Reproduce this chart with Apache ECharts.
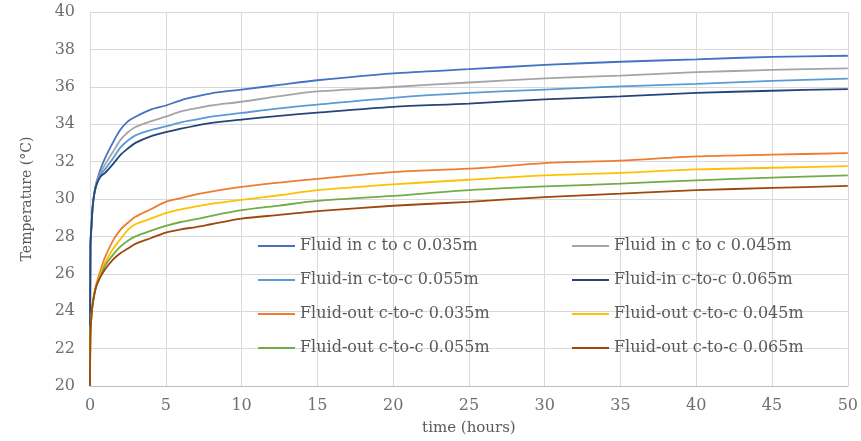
<!DOCTYPE html>
<html>
<head>
<meta charset="utf-8">
<style>
html, body { margin: 0; padding: 0; background: #fff; }
#main { width: 861px; height: 441px; }
</style>
<script src="https://cdn.jsdelivr.net/npm/echarts@6/dist/echarts.min.js"></script>
</head>
<body>
<div id="main"></div>
<script>
// time points (hours)
var time = [0, 0.03, 0.1, 0.2, 0.4, 0.7, 1, 1.5, 2, 2.5, 3, 4, 5, 6, 7, 8, 10, 12.5, 15, 20, 25, 30, 35, 40, 45, 50];

// temperatures (°C)
var in035 = [20, 27.5, 28.6, 29.8, 30.8, 31.6, 32.2, 33.0, 33.7, 34.15, 34.4, 34.78, 35.0, 35.28, 35.48, 35.65, 35.85, 36.1, 36.35, 36.72, 36.94, 37.17, 37.34, 37.47, 37.6, 37.66];
var in045 = [20, 27.5, 28.6, 29.8, 30.8, 31.4, 31.85, 32.5, 33.15, 33.57, 33.85, 34.15, 34.4, 34.68, 34.85, 35.0, 35.2, 35.5, 35.75, 35.99, 36.23, 36.45, 36.6, 36.78, 36.9, 36.99];
var in055 = [20, 27.5, 28.6, 29.8, 30.7, 31.3, 31.6, 32.15, 32.75, 33.13, 33.4, 33.68, 33.88, 34.1, 34.25, 34.4, 34.6, 34.85, 35.05, 35.41, 35.67, 35.85, 36.02, 36.16, 36.32, 36.44];
var in065 = [20, 27.5, 28.6, 29.8, 30.7, 31.2, 31.4, 31.85, 32.35, 32.7, 33.0, 33.35, 33.57, 33.76, 33.93, 34.07, 34.25, 34.45, 34.62, 34.93, 35.1, 35.33, 35.49, 35.67, 35.79, 35.88];
var out035 = [20, 22.8, 23.8, 24.6, 25.4, 26.2, 26.9, 27.75, 28.35, 28.73, 29.05, 29.45, 29.85, 30.05, 30.25, 30.4, 30.65, 30.88, 31.08, 31.44, 31.62, 31.92, 32.05, 32.28, 32.37, 32.45];
var out045 = [20, 22.8, 23.8, 24.5, 25.3, 26.0, 26.6, 27.3, 27.85, 28.35, 28.65, 28.95, 29.25, 29.45, 29.6, 29.74, 29.95, 30.2, 30.47, 30.78, 31.03, 31.26, 31.4, 31.58, 31.67, 31.76];
var out055 = [20, 22.8, 23.8, 24.5, 25.3, 25.9, 26.45, 27.0, 27.45, 27.77, 28.0, 28.3, 28.56, 28.77, 28.92, 29.1, 29.4, 29.65, 29.9, 30.17, 30.47, 30.67, 30.82, 31.0, 31.14, 31.26];
var out065 = [20, 22.8, 23.8, 24.5, 25.3, 25.85, 26.25, 26.75, 27.1, 27.35, 27.6, 27.9, 28.2, 28.38, 28.5, 28.65, 28.95, 29.15, 29.35, 29.64, 29.85, 30.1, 30.29, 30.47, 30.59, 30.7];

var names = [
    'Fluid in c to c 0.035m', 'Fluid in c to c 0.045m',
    'Fluid-in c-to-c 0.055m', 'Fluid-in c-to-c 0.065m',
    'Fluid-out c-to-c 0.035m', 'Fluid-out c-to-c 0.045m',
    'Fluid-out c-to-c 0.055m', 'Fluid-out c-to-c 0.065m'
];
var values = [in035, in045, in055, in065, out035, out045, out055, out065];
var colors = ['#4472C4', '#A5A5A5', '#5B9BD5', '#264478', '#ED7D31', '#FFC000', '#70AD47', '#9E480E'];

// the reference text is wide serif, DejaVu Serif gets the widths closest
var font = '"DejaVu Serif", "Liberation Serif", serif';
var textColor = '#595959';

function pairs(arr) {
    return time.map(function (t, i) { return [t, arr[i]]; });
}

var series = values.map(function (arr, i) {
    return {
        name: names[i],
        type: 'line',
        data: pairs(arr),
        symbol: 'none',
        smooth: 0.3,
        lineStyle: { width: 1.8, color: colors[i] },
        itemStyle: { color: colors[i] }
    };
});

function legendCol(left, data) {
    return {
        orient: 'vertical',
        left: left,
        top: 231,
        data: data,
        icon: 'rect',
        itemWidth: 37,
        itemHeight: 2,
        itemGap: 14,
        textStyle: { fontFamily: font, fontSize: 16, color: textColor, lineHeight: 20 }
    };
}

var myChart = echarts.init(document.getElementById('main'));
myChart.setOption({
    animation: false,
    color: colors,
    grid: { left: 90, right: 11, top: 12, bottom: 52 },
    legend: [
        legendCol(253, [names[0], names[2], names[4], names[6]]),
        legendCol(567, [names[1], names[3], names[5], names[7]])
    ],
    xAxis: {
        type: 'value',
        min: 0,
        max: 50,
        interval: 5,
        name: 'time (hours)',
        nameLocation: 'middle',
        nameGap: 35,
        nameTextStyle: { fontFamily: font, fontSize: 15, color: textColor },
        axisLine: { show: true, lineStyle: { color: '#bfbfbf' } },
        axisTick: { show: false },
        axisLabel: { fontFamily: font, fontSize: 16, color: '#6f6f6f', margin: 12 },
        splitLine: { show: true, lineStyle: { color: '#d9d9d9' } }
    },
    yAxis: {
        type: 'value',
        min: 20,
        max: 40,
        interval: 2,
        name: 'Temperature (°C)',
        nameLocation: 'middle',
        nameGap: 56,
        nameTextStyle: { fontFamily: font, fontSize: 14, color: textColor },
        axisLine: { show: false },
        axisTick: { show: false },
        axisLabel: { fontFamily: font, fontSize: 16, color: '#6f6f6f', margin: 15 },
        splitLine: { lineStyle: { color: '#d9d9d9' } }
    },
    series: series
});
</script>
</body>
</html>
